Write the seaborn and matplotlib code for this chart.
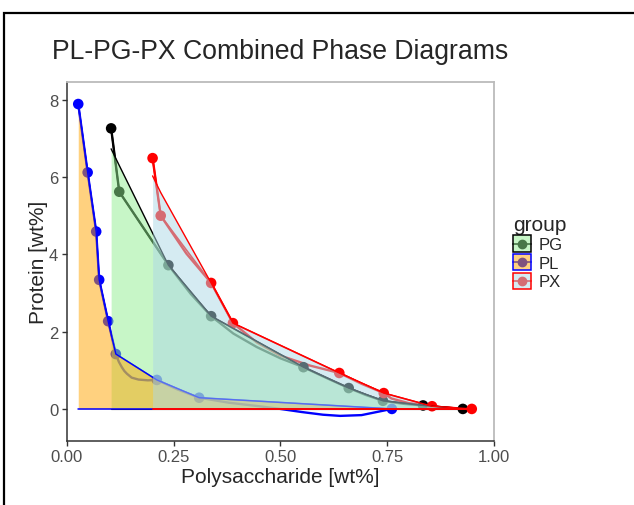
import pandas as pd
import seaborn as sns
import matplotlib.pyplot as plt
from matplotlib.lines import Line2D
from matplotlib.patches import Rectangle

groups = ["PG", "PL", "PX"]
line_colors = {"PG": "black", "PL": "blue", "PX": "red"}
fill_colors = {"PG": "lightgreen", "PL": "orange", "PX": "lightblue"}

# measured points
pg_x = [0.104, 0.123, 0.238, 0.338, 0.554, 0.660, 0.740, 0.834, 0.927]
pg_y = [7.26, 5.62, 3.72, 2.40, 1.08, 0.54, 0.21, 0.09, 0.00]
pl_x = [0.027, 0.049, 0.069, 0.076, 0.097, 0.115, 0.211, 0.310, 0.761]
pl_y = [7.89, 6.12, 4.59, 3.34, 2.27, 1.42, 0.75, 0.29, 0.00]
px_x = [0.201, 0.220, 0.338, 0.389, 0.638, 0.742, 0.855, 0.948]
px_y = [6.49, 5.00, 3.26, 2.22, 0.93, 0.41, 0.07, 0.00]

# upper edge of the shaded areas (same x as the points)
pg_top = [6.73, 6.30, 3.72, 2.40, 1.08, 0.54, 0.21, 0.09, 0.00]
pl_top = [7.89, 6.12, 4.59, 3.34, 2.27, 1.42, 0.75, 0.29, 0.00]
px_top = [6.03, 5.60, 3.26, 2.22, 0.93, 0.41, 0.07, 0.00]

# smooth curves
pg_sx = [0.104, 0.123, 0.238, 0.29, 0.338, 0.39, 0.445, 0.50, 0.554, 0.61, 0.660, 0.70, 0.740, 0.79, 0.834, 0.88, 0.927]
pg_sy = [7.26, 5.62, 3.72, 2.98, 2.40, 1.95, 1.60, 1.31, 1.08, 0.79, 0.54, 0.36, 0.21, 0.13, 0.09, 0.04, 0.00]
pl_sx = [0.027, 0.049, 0.069, 0.076, 0.097, 0.115, 0.122, 0.129, 0.135, 0.141, 0.152, 0.168, 0.19, 0.211, 0.26, 0.310,
         0.38, 0.45, 0.50, 0.55, 0.60, 0.64, 0.69, 0.73, 0.761]
pl_sy = [7.89, 6.12, 4.59, 3.34, 2.27, 1.42, 1.22, 1.08, 0.98, 0.91, 0.81, 0.76, 0.74, 0.75, 0.50, 0.29,
         0.16, 0.07, 0.00, -0.08, -0.15, -0.18, -0.16, -0.07, 0.00]
px_sx = [0.201, 0.220, 0.28, 0.338, 0.389, 0.445, 0.50, 0.57, 0.638, 0.69, 0.742, 0.76, 0.80, 0.855, 0.90, 0.948]
px_sy = [6.49, 5.00, 4.02, 3.26, 2.22, 1.72, 1.38, 1.12, 0.93, 0.65, 0.41, 0.27, 0.15, 0.07, 0.02, 0.00]

pts = pd.concat([
    pd.DataFrame({"x": pg_x, "y": pg_y, "top": pg_top, "group": "PG"}),
    pd.DataFrame({"x": pl_x, "y": pl_y, "top": pl_top, "group": "PL"}),
    pd.DataFrame({"x": px_x, "y": px_y, "top": px_top, "group": "PX"}),
], ignore_index=True)
smooth = pd.concat([
    pd.DataFrame({"x": pg_sx, "y": pg_sy, "group": "PG"}),
    pd.DataFrame({"x": pl_sx, "y": pl_sy, "group": "PL"}),
    pd.DataFrame({"x": px_sx, "y": px_sy, "group": "PX"}),
], ignore_index=True)


class Key:
    def __init__(self, g):
        self.g = g


class KeyHandler:
    # legend key: line + point, with the shaded box drawn over them
    def legend_artist(self, legend, orig_handle, fontsize, handlebox):
        g = orig_handle.g
        x0, y0 = -handlebox.xdescent, -handlebox.ydescent
        w, h = handlebox.width, handlebox.height
        tr = handlebox.get_transform()
        ln = Line2D([x0, x0 + w], [y0 + h / 2] * 2, color=line_colors[g], lw=1.2, transform=tr)
        pt = Line2D([x0 + w / 2], [y0 + h / 2], color=line_colors[g], marker="o", markersize=6,
                    lw=0, transform=tr)
        box = Rectangle((x0, y0), w, h, facecolor=fill_colors[g], alpha=0.5, linewidth=0, transform=tr)
        edge = Rectangle((x0, y0), w, h, facecolor="none", edgecolor=line_colors[g], linewidth=1.1,
                         transform=tr)
        for a in (ln, pt, box, edge):
            handlebox.add_artist(a)
        return box


sns.set_style("white")
plt.rcParams["font.family"] = ["Liberation Sans", "DejaVu Sans"]

fig = plt.figure(figsize=(6.34, 5.06), dpi=100)
ax = fig.add_axes([66.7 / 634, 1 - 442 / 506, (494 - 66.7) / 634, (442 - 83) / 506])

sns.lineplot(data=smooth, x="x", y="y", hue="group", palette=line_colors, estimator=None, sort=False,
             linewidth=1.7, legend=False, ax=ax, zorder=2)
sns.lineplot(data=pts, x="x", y="y", hue="group", palette=line_colors, estimator=None, sort=False,
             linewidth=1.2, legend=False, ax=ax, zorder=2.1)
sns.scatterplot(data=pts, x="x", y="y", hue="group", palette=line_colors, s=58, linewidth=0,
                legend=False, ax=ax, zorder=2.2)

# shaded areas on top, like the ggplot ribbons
for i, g in enumerate(groups):
    d = pts[pts["group"] == g]
    z = 3 + i * 0.1
    ax.fill_between(d["x"], 0, d["top"], color=fill_colors[g], alpha=0.5, linewidth=0, zorder=z)
    ax.plot(d["x"], d["top"], color=line_colors[g], lw=1.0, zorder=z + 0.05)
    ax.plot([d["x"].min(), d["x"].max()], [0, 0], color=line_colors[g], lw=0.8 + 0.3 * i,
            zorder=z + 0.05)

ax.set_xlim(0, 1.0)
ax.set_ylim(-0.83, 8.46)
ax.set_xticks([0, 0.25, 0.5, 0.75, 1.0])
ax.set_xticklabels(["0.00", "0.25", "0.50", "0.75", "1.00"])
ax.set_yticks([0, 2, 4, 6, 8])
ax.tick_params(axis="both", labelsize=12, labelcolor="#4d4d4d", color="#333333",
               length=3.5, width=1, pad=2.5, bottom=True, left=True)
ax.set_xlabel("Polysaccharide [wt%]", fontsize=15, labelpad=2)
ax.set_ylabel("Protein [wt%]", fontsize=15, labelpad=1)
for s in ["left", "bottom"]:
    ax.spines[s].set_color("#333333")
    ax.spines[s].set_linewidth(1.1)
for s in ["top", "right"]:
    ax.spines[s].set_color("#bbbbbb")
    ax.spines[s].set_linewidth(1.3)

fig.text(52 / 634, 1 - 59 / 506, "PL-PG-PX Combined Phase Diagrams", fontsize=19.2, va="baseline")

leg = fig.legend([Key(g) for g in groups], groups, handler_map={Key: KeyHandler()},
                 loc="upper left", bbox_to_anchor=(506 / 634, 1 - 209 / 506), frameon=False,
                 title="group", fontsize=12, title_fontsize=15, handlelength=1.1, handleheight=1.15,
                 labelspacing=0.1, handletextpad=0.45, borderaxespad=0)
leg._legend_box.align = "left"

fig.patches.append(Rectangle((4 / 634, -0.05), 1.2, 1 - 14 / 506 + 0.05, transform=fig.transFigure,
                             fill=False, edgecolor="black", linewidth=1.6))

fig.savefig("out.png", dpi=100)
